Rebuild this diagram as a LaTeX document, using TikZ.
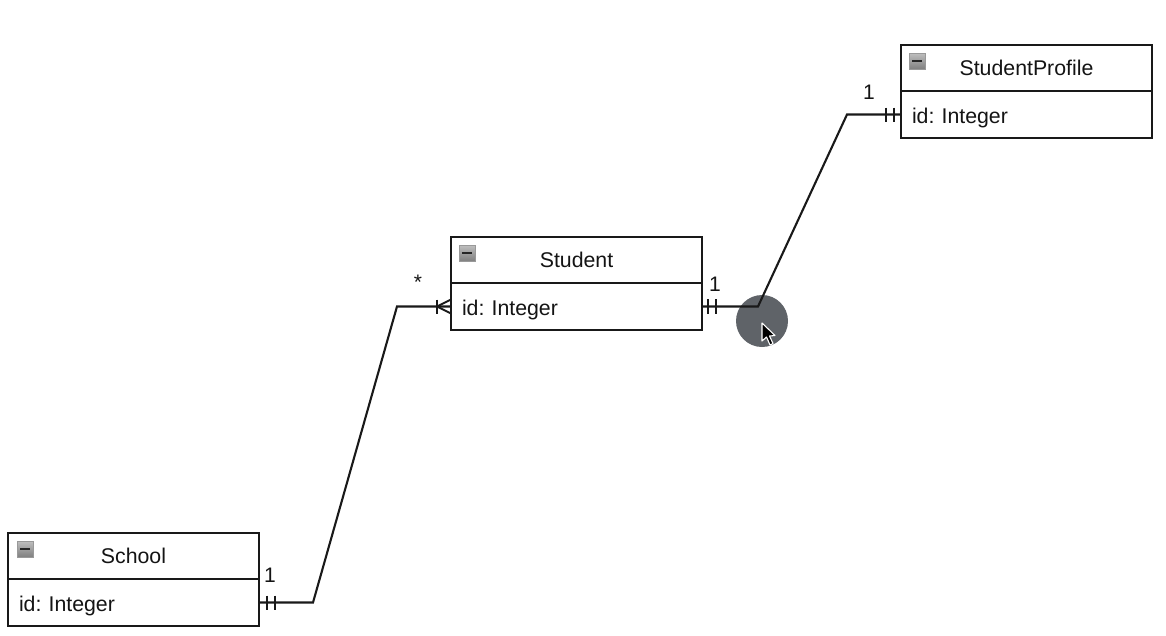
\documentclass[tikz,border=0pt]{standalone}
\usepackage{fontspec}
\setmainfont{Liberation Sans}
\definecolor{halocol}{HTML}{5F6368}
\tikzset{
  ink/.style={draw=black!90,line width=2.1pt},
  cellbox/.style={ink,rectangle,minimum width=251pt,minimum height=46.5pt,inner sep=0pt,outer sep=0pt,font=\fontsize{21.3}{25}\selectfont\frenchspacing,text=black!92},
  rowbox/.style={cellbox,align=left,text width=229pt},
  conn/.style={draw=black!90,line width=2.1pt,line join=miter},
  tick/.style={draw=black!90,line width=1.9pt},
  mult/.style={inner sep=0pt,font=\fontsize{21}{25}\selectfont,text=black!92},
  iconbox/.style={rectangle,minimum size=16pt,inner sep=0pt,draw=black!40,line width=0.8pt,top color=black!25,bottom color=black!50},
  iconbar/.style={draw=black!85,line width=2pt},
}
\newcommand{\rowtext}[1]{\raisebox{-9.3pt}[0pt][0pt]{#1}}
\begin{document}
\begin{tikzpicture}[x=1pt,y=-1pt]
\useasboundingbox (0,0) rectangle (1166,635);
\fill[white] (0,0) rectangle (1166,635);

% hover highlight
\node[circle,fill=halocol,minimum size=52pt,inner sep=0pt] (halo) at (762,321) {};

% classes
\node[cellbox] (schoolT) at (133.5,556) {School};
\node[rowbox,anchor=north] (schoolR) at (schoolT.south) {\rowtext{id: Integer}};
\node[cellbox] (studentT) at (576.5,260) {Student};
\node[rowbox,anchor=north] (studentR) at (studentT.south) {\rowtext{id: Integer}};
\node[cellbox] (profileT) at (1026.5,68) {StudentProfile};
\node[rowbox,anchor=north] (profileR) at (profileT.south) {\rowtext{id: Integer}};

% collapse icons
\foreach \n/\x/\y in {iconA/25/549,iconB/467/253,iconC/917/61}{
  \node[iconbox] (\n) at (\x,\y) {};
  \draw[iconbar] ([xshift=-5pt]\n.center) -- ([xshift=5pt]\n.center);
}

% connector bends
\coordinate (b1) at (313,602.5);
\coordinate (b2) at (397,306.5);
\coordinate (b3) at (758,306.5);
\coordinate (b4) at (847,114.5);

\draw[conn] (schoolR.east) -- (b1) -- (b2) -- (studentR.west);
\draw[conn] (studentR.east) -- (b3) -- (b4) -- (profileR.west);

% one-marks
\foreach \a in {6,14}{
  \draw[tick] ([xshift=\a pt,yshift=7.5pt]studentR.east) -- ([xshift=\a pt,yshift=-7.5pt]studentR.east);
}
\foreach \a in {8,16}{
  \draw[tick] ([xshift=\a pt,yshift=7pt]schoolR.east) -- ([xshift=\a pt,yshift=-7pt]schoolR.east);
  \draw[tick] ([xshift=-\a pt+1pt,yshift=7pt]profileR.west) -- ([xshift=-\a pt+1pt,yshift=-7pt]profileR.west);
}
% crow's foot
\draw[tick] ([xshift=-14pt,yshift=7pt]studentR.west) -- ([xshift=-14pt,yshift=-7pt]studentR.west);
\draw[tick] ([yshift=7pt]studentR.west) -- ([xshift=-14pt]studentR.west) -- ([yshift=-7pt]studentR.west);

% multiplicities
\node[mult] (m1) at (270,575) {1};
\node[mult] (m2) at (715,284) {1};
\node[mult] (m3) at (869,92) {1};
\node[mult] (m4) at (418,282) {*};

% pointer
\fill[black,draw=white,line width=1.1pt,line join=round]
  (762,323) -- (762,341) -- (766.5,337) -- (770,345) -- (773,343.5) -- (769.5,336) -- (775,335.5) -- cycle;
\end{tikzpicture}
\end{document}
